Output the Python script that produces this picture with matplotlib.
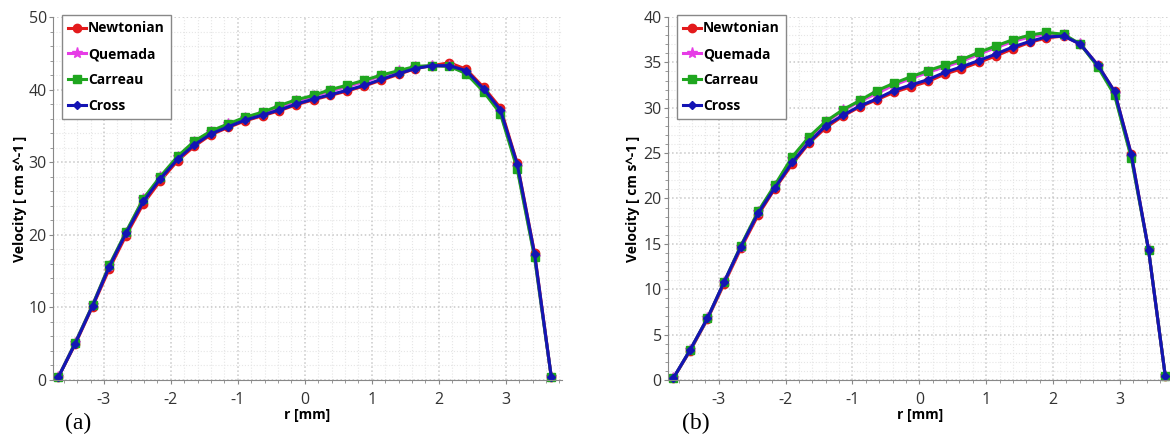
import matplotlib.pyplot as plt
from matplotlib.ticker import AutoMinorLocator, MultipleLocator

plt.rcParams["font.family"] = ["Open Sans", "DejaVu Sans"]
plt.rcParams["axes.unicode_minus"] = False

# radial positions [mm]
r = [-3.68, -3.43, -3.17, -2.92, -2.67, -2.41, -2.16, -1.90, -1.65, -1.40,
     -1.14, -0.89, -0.63, -0.38, -0.13, 0.13, 0.38, 0.63, 0.89, 1.14,
     1.40, 1.65, 1.90, 2.16, 2.41, 2.67, 2.92, 3.17, 3.43, 3.68]

# panel (a)
a_newtonian = [0.4, 4.9, 10.1, 15.3, 19.9, 24.3, 27.4, 30.2, 32.2, 33.8,
               34.8, 35.7, 36.4, 37.1, 37.9, 38.6, 39.2, 39.8, 40.5, 41.3,
               42.1, 42.9, 43.3, 43.7, 42.8, 40.3, 37.5, 29.9, 17.5, 0.4]
a_quemada = [0.4, 5.1, 10.3, 15.7, 20.3, 24.9, 27.9, 30.7, 32.8, 34.2,
             35.2, 36.1, 36.8, 37.6, 38.4, 39.1, 39.8, 40.4, 41.1, 41.9,
             42.5, 43.1, 43.3, 43.2, 42.3, 39.8, 36.9, 29.3, 17.0, 0.4]
a_carreau = [0.4, 5.1, 10.3, 15.8, 20.4, 25.0, 28.0, 30.8, 32.9, 34.3,
             35.3, 36.2, 36.9, 37.8, 38.6, 39.2, 40.0, 40.6, 41.3, 42.0,
             42.6, 43.2, 43.3, 43.2, 42.2, 39.7, 36.7, 29.1, 16.9, 0.4]
a_cross = [0.4, 5.0, 10.2, 15.6, 20.2, 24.6, 27.7, 30.4, 32.4, 33.9,
           34.9, 35.8, 36.5, 37.2, 38.0, 38.7, 39.3, 39.9, 40.6, 41.4,
           42.2, 42.9, 43.3, 43.3, 42.6, 40.1, 37.2, 29.8, 17.4, 0.4]

# panel (b)
b_newtonian = [0.2, 3.2, 6.7, 10.6, 14.5, 18.2, 21.1, 23.8, 26.1, 27.8,
               29.1, 30.1, 30.9, 31.7, 32.3, 32.9, 33.7, 34.3, 35.0, 35.7,
               36.5, 37.2, 37.7, 37.9, 37.0, 34.7, 31.8, 24.9, 14.3, 0.4]
b_quemada = [0.2, 3.3, 6.8, 10.8, 14.7, 18.5, 21.4, 24.4, 26.6, 28.4,
             29.7, 30.7, 31.6, 32.5, 33.2, 33.9, 34.5, 35.1, 35.9, 36.6,
             37.3, 37.8, 38.1, 38.0, 37.0, 34.6, 31.5, 24.6, 14.3, 0.4]
b_carreau = [0.2, 3.3, 6.8, 10.8, 14.8, 18.6, 21.5, 24.6, 26.8, 28.5,
             29.8, 30.8, 31.9, 32.7, 33.4, 34.1, 34.7, 35.3, 36.1, 36.8,
             37.5, 38.0, 38.3, 38.1, 37.0, 34.5, 31.4, 24.5, 14.3, 0.4]
b_cross = [0.2, 3.3, 6.8, 10.8, 14.7, 18.4, 21.2, 24.0, 26.2, 28.0,
           29.2, 30.2, 31.0, 31.9, 32.5, 33.1, 33.9, 34.5, 35.2, 35.9,
           36.7, 37.3, 37.8, 37.9, 37.0, 34.7, 31.8, 24.9, 14.3, 0.4]

labels = ["Newtonian", "Quemada", "Carreau", "Cross"]
colors = ["#e31a1c", "#e63ce6", "#1fa61f", "#1414b4"]
markers = ["o", "*", "s", "D"]
msizes = [6, 8, 6, 4.5]

fig = plt.figure(figsize=(11.7, 4.43), dpi=100)
ax_a = fig.add_axes([53 / 1170, 1 - 380 / 443, (562 - 53) / 1170, 363 / 443])
ax_b = fig.add_axes([668 / 1170, 1 - 380 / 443, (1172 - 668) / 1170, 363 / 443])

panels = [
    (ax_a, [a_newtonian, a_quemada, a_carreau, a_cross], 50, 10, "(a)", 3.84, -0.051),
    (ax_b, [b_newtonian, b_quemada, b_carreau, b_cross], 40, 5, "(b)", 3.78, -0.056),
]

for ax, series, ymax, ystep, tag, xmax, ylab_x in panels:
    for vals, lab, c, m, ms in zip(series, labels, colors, markers, msizes):
        ax.plot(r, vals, color=c, marker=m, markersize=ms, linewidth=2.2,
                label=lab, clip_on=False)
    ax.set_ylim(0, ymax)
    ax.set_xlim(-3.76, xmax)
    ax.xaxis.set_major_locator(MultipleLocator(1))
    ax.yaxis.set_major_locator(MultipleLocator(ystep))
    ax.xaxis.set_minor_locator(AutoMinorLocator(5))
    ax.yaxis.set_minor_locator(AutoMinorLocator(5))
    ax.grid(which="major", color="#c8c8c8", linestyle=":", linewidth=1.1)
    ax.grid(which="minor", color="#e6e6e6", linestyle=":", linewidth=0.8)
    ax.set_axisbelow(True)
    for s in ["top", "right"]:
        ax.spines[s].set_visible(False)
    for s in ["left", "bottom"]:
        ax.spines[s].set_color("#888888")
    ax.tick_params(which="major", length=3, color="#888888", labelsize=11.5,
                   labelcolor="#333333")
    ax.tick_params(axis="y", pad=1.5)
    ax.tick_params(axis="x", pad=5.5)
    ax.tick_params(which="minor", length=2, color="#888888")
    ax.set_xlabel("r [mm]", fontweight="bold", fontsize=10, labelpad=0)
    ax.set_ylabel("Velocity [ cm s^-1 ]", fontweight="bold", fontsize=10)
    ax.yaxis.set_label_coords(ylab_x, 0.5)
    leg = ax.legend(loc="upper left", bbox_to_anchor=(0.018, 1.005),
                    prop={"weight": "bold", "size": 10}, handlelength=1.3,
                    handletextpad=0.1, borderpad=0.45, labelspacing=0.85,
                    borderaxespad=0, fancybox=False, framealpha=1)
    leg.get_frame().set_edgecolor("#888888")
    ax.text(0.05 if ax is ax_a else 0.055, -0.12, tag, transform=ax.transAxes,
            fontsize=17, family="Liberation Serif", ha="center", va="center")

fig.savefig("out.png", dpi=100)
